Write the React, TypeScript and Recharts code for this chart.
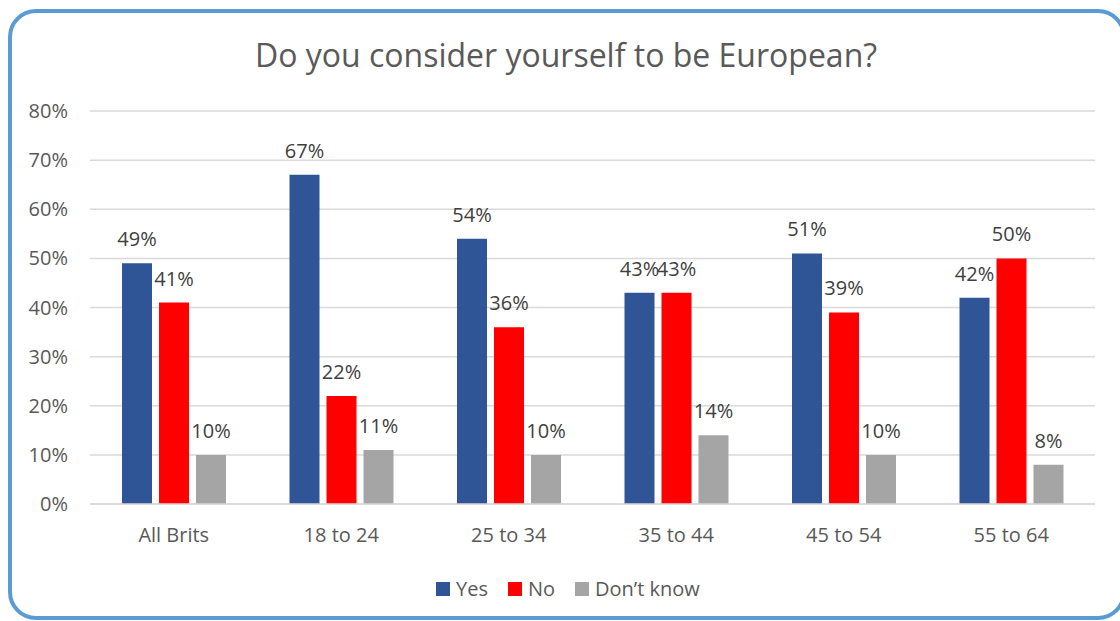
import React from "react";
import { BarChart, Bar, XAxis, YAxis, CartesianGrid, Legend, LabelList } from "recharts";

const categories = ["All Brits", "18 to 24", "25 to 34", "35 to 44", "45 to 54", "55 to 64"];
const yesValues = [49, 67, 54, 43, 51, 42];
const noValues = [41, 22, 36, 43, 39, 50];
const dontKnowValues = [10, 11, 10, 14, 10, 8];
const yTicks = [0, 10, 20, 30, 40, 50, 60, 70, 80];
const seriesNames = ["Yes", "No", "Don\u2019t know"];
const seriesColors = ["#2F5597", "#FF0000", "#A5A5A5"];

const data = categories.map((c, i) => ({
  category: c,
  yes: yesValues[i],
  no: noValues[i],
  dk: dontKnowValues[i],
}));

const FONT = "'Open Sans', sans-serif";

const renderLegend = (props: any) => {
  const payload = [...(props.payload || [])].sort(
    (a: any, b: any) => seriesNames.indexOf(a.value) - seriesNames.indexOf(b.value)
  );
  return (
    <div style={{ display: "flex", alignItems: "center", fontFamily: FONT, fontSize: 20, color: "#595959" }}>
      {payload.map((p: any, i: number) => (
        <div key={i} style={{ display: "flex", alignItems: "center", marginRight: 20 }}>
          <span style={{ display: "inline-block", width: 14, height: 14, background: p.color, marginRight: 6 }} />
          <span>{p.value}</span>
        </div>
      ))}
    </div>
  );
};

export default function App() {
  return (
    <div style={{ position: "absolute", left: 0, top: 0, width: 1120, height: 621, overflow: "hidden", background: "#fff" }}>
      <div
        style={{
          position: "absolute",
          left: 8,
          top: 9,
          width: 1118,
          height: 611,
          border: "4px solid #5B9BD5",
          borderRadius: 28,
          boxSizing: "border-box",
        }}
      />
      <div
        style={{
          position: "absolute",
          left: 0,
          top: 33,
          width: 1132,
          textAlign: "center",
          fontFamily: FONT,
          fontSize: 32,
          color: "#595959",
        }}
      >
        Do you consider yourself to be European?
      </div>
      <div style={{ position: "absolute", left: 0, top: 0 }}>
        <BarChart
          width={1120}
          height={621}
          data={data}
          margin={{ top: 111, right: 25, bottom: 60, left: 0 }}
          barSize={30}
          barGap={7}
        >
          <CartesianGrid vertical={false} stroke="#D9D9D9" strokeWidth={1.5} />
          <XAxis
            dataKey="category"
            axisLine={{ stroke: "#D9D9D9", strokeWidth: 1.5 }}
            tickLine={false}
            tick={{ fontFamily: FONT, fontSize: 20, fill: "#595959" }}
            tickMargin={18}
          />
          <YAxis
            domain={[0, 80]}
            ticks={yTicks}
            tickFormatter={(v: number) => `${v}%`}
            axisLine={false}
            tickLine={false}
            tickSize={0}
            tickMargin={22}
            width={90}
            tick={{ fontFamily: FONT, fontSize: 20, fill: "#595959" }}
          />
          <Legend
            content={renderLegend}
            verticalAlign="bottom"
            wrapperStyle={{ left: 436, top: 575, width: "auto" }}
          />
          <Bar dataKey="yes" name={seriesNames[0]} fill={seriesColors[0]} isAnimationActive={false}>
            <LabelList dataKey="yes" position="top" offset={17} formatter={(v: any) => `${v}%`} style={{ fontFamily: FONT, fontSize: 20, fill: "#404040" }} />
          </Bar>
          <Bar dataKey="no" name={seriesNames[1]} fill={seriesColors[1]} isAnimationActive={false}>
            <LabelList dataKey="no" position="top" offset={17} formatter={(v: any) => `${v}%`} style={{ fontFamily: FONT, fontSize: 20, fill: "#404040" }} />
          </Bar>
          <Bar dataKey="dk" name={seriesNames[2]} fill={seriesColors[2]} isAnimationActive={false}>
            <LabelList dataKey="dk" position="top" offset={17} formatter={(v: any) => `${v}%`} style={{ fontFamily: FONT, fontSize: 20, fill: "#404040" }} />
          </Bar>
        </BarChart>
      </div>
    </div>
  );
}
